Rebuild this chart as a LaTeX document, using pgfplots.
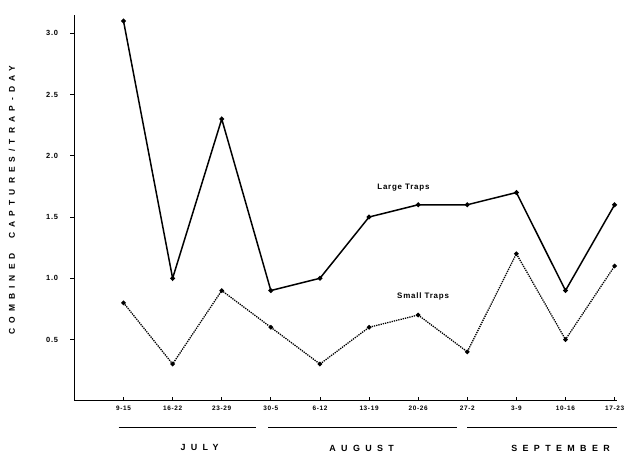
\documentclass[border=0pt]{standalone}
\usepackage{pgfplots}
\pgfplotsset{compat=1.18}
\usepackage{fontspec}
\setmainfont{Liberation Sans}
\newfontfamily\spaced[LetterSpace=60]{Liberation Sans}
\newfontfamily\tickf[LetterSpace=10]{Liberation Sans}
\begin{document}
\begin{tikzpicture}
\begin{axis}[
    name=ax,
    scale only axis,
    width=547pt, height=389pt,
    xmin=0, xmax=11.05,
    ymin=0, ymax=3.15,
    axis x line*=bottom, axis y line*=left,
    axis line style={line width=1.4pt},
    xtick={1,...,11},
    xticklabels={9-15,16-22,23-29,30-5,6-12,13-19,20-26,27-2,3-9,10-16,17-23},
    ytick={0.5,1.0,...,3.0},
    yticklabels={0.5,1.0,1.5,2.0,2.5,3.0},
    x tick label style={font=\tickf\fontsize{6.5}{7}\selectfont\bfseries, yshift=-2pt},
    y tick label style={font=\tickf\fontsize{7.5}{8}\selectfont\bfseries, xshift=-9pt},
    /pgf/number format/assume math mode=true,
    tick style={black, line width=0.8pt},
    xtick align=inside, ytick align=outside,
    major tick length=4pt,
    clip=false,
]
\addplot[black, line width=1.5pt, mark=*, mark size=1.6pt] coordinates {
(1,3.1)(2,1.0)(3,2.3)(4,0.9)(5,1.0)(6,1.5)(7,1.6)(8,1.6)(9,1.7)(10,0.9)(11,1.6)
};
\addplot[black, line width=1.3pt, densely dotted, mark=*, mark size=1.6pt, mark options={solid}] coordinates {
(1,0.8)(2,0.3)(3,0.9)(4,0.6)(5,0.3)(6,0.6)(7,0.7)(8,0.4)(9,1.2)(10,0.5)(11,1.1)
};
\node[font=\tickf\fontsize{8}{9}\selectfont\bfseries] at (axis cs:6.7,1.74) {Large Traps};
\node[font=\tickf\fontsize{8}{9}\selectfont\bfseries] at (axis cs:7.1,0.855) {Small Traps};
\draw[line width=1pt] (axis cs:0.9,-0.22) -- (axis cs:3.7,-0.22);
\draw[line width=1pt] (axis cs:3.95,-0.22) -- (axis cs:7.8,-0.22);
\draw[line width=1pt] (axis cs:8.0,-0.22) -- (axis cs:11.05,-0.22);
\node[font=\spaced\fontsize{9}{10}\selectfont\bfseries] at (axis cs:2.55,-0.385) {JULY};
\node[font=\spaced\fontsize{9}{10}\selectfont\bfseries] at (axis cs:5.85,-0.385) {AUGUST};
\node[font=\spaced\fontsize{9}{10}\selectfont\bfseries] at (axis cs:9.9,-0.385) {SEPTEMBER};
\node[rotate=90, font=\spaced\fontsize{8.5}{9}\selectfont\bfseries]
    at ([xshift=-63pt]rel axis cs:0,0.52) {COMBINED\ \ CAPTURES/TRAP-DAY};
\coordinate (bl) at (rel axis cs:0,0);
\coordinate (tr) at (rel axis cs:1,1);
\end{axis}
\pgfresetboundingbox
\path ([xshift=-75pt,yshift=-52pt]bl) rectangle ([xshift=8pt,yshift=15pt]tr);
\end{tikzpicture}
\end{document}
